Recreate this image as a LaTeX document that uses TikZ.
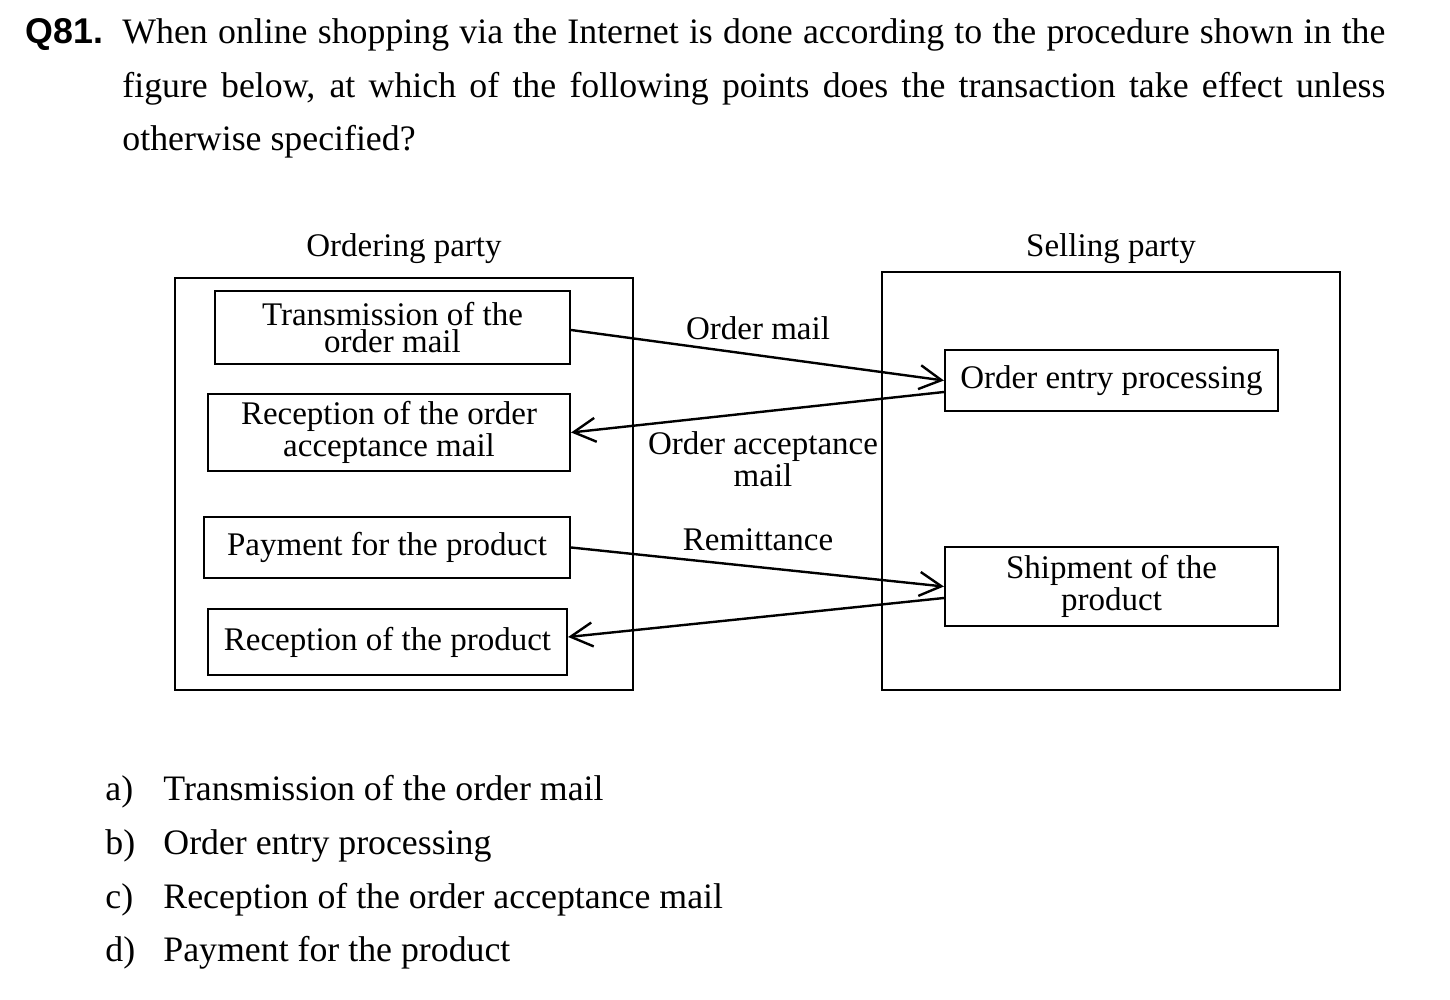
\documentclass[tikz,border=0pt]{standalone}
\usepackage{fontspec}
\setmainfont{Liberation Serif}
\newfontfamily\qsans{Liberation Sans}
\usetikzlibrary{arrows.meta,calc}
\tikzset{
  qtext/.style={anchor=base west, inner sep=0pt, font=\fontsize{17.9}{26.75}\selectfont},
  dlabel/.style={inner sep=0pt, font=\fontsize{16.5}{12.5}\selectfont, align=center},
  frame/.style={draw, line width=1.1pt, inner sep=0pt},
  pbox/.style={draw, line width=1.1pt, inner sep=0pt, align=center, font=\fontsize{16.5}{13.5}\selectfont},
  arr/.style={line width=1.2pt, -{Straight Barb[length=11pt,width=12pt,line width=1.2pt]}}
}
\begin{document}
\begin{tikzpicture}[x=0.5pt,y=-0.5pt]
\useasboundingbox (0,0) rectangle (1450,1000);
% question
\node[qtext] (qnum) at (25,44) {\qsans\bfseries Q81.};
\node[qtext] (ql1) at (122,44) {\makebox[631.5pt][s]{When online shopping via the Internet is done according to the procedure shown in the}};
\node[qtext] (ql2) at (122,97.5) {\makebox[631.5pt][s]{figure below, at which of the following points does the transaction take effect unless}};
\node[qtext] (ql3) at (122,151) {otherwise specified?};
% party labels
\node[dlabel] (olab) at (404,249) {Ordering party};
\node[dlabel] (slab) at (1111,249) {Selling party};
% frames
\node[frame, minimum width=229pt, minimum height=206pt] (left) at (404,484) {};
\node[frame, minimum width=229pt, minimum height=209pt] (right) at (1111,481) {};
% boxes
\node[pbox, minimum width=177.5pt, minimum height=36.5pt] (t1) at (392.5,327.5) {Transmission of the\\order mail};
\node[pbox, minimum width=181pt, minimum height=38.5pt] (r1) at (389,432.5) {Reception of the order\\acceptance mail};
\node[pbox, minimum width=183pt, minimum height=30.5pt] (pay) at (387,547.5) {Payment for the product};
\node[pbox, minimum width=179.5pt, minimum height=33pt] (rp) at (387.5,642) {Reception of the product};
\node[pbox, minimum width=166.5pt, minimum height=30.5pt] (oe) at (1111.5,380.5) {Order entry processing};
\node[pbox, minimum width=166.5pt, minimum height=39.5pt] (sp) at (1111.5,586.5) {Shipment of the\\product};
% arrows
\draw[arr] ($(t1.east)+(0,2.5)$) -- (oe.west);
\draw[arr] ($(oe.west)+(0,11.5)$) -- (r1.east);
\draw[arr] (pay.east) -- (sp.west);
\draw[arr] ($(sp.west)+(0,11.5)$) -- ($(rp.east)+(0,-5)$);
% arrow labels
\node[dlabel] (lom) at (758,328) {Order mail};
\node[dlabel] (loa) at (763,459) {Order acceptance\\mail};
\node[dlabel] (lrem) at (758,540) {Remittance};
% answers
\node[qtext] (aa) at (105,800) {a)};
\node[qtext] (ta) at (163,800) {Transmission of the order mail};
\node[qtext] (ab) at (105,854) {b)};
\node[qtext] (tb) at (163,854) {Order entry processing};
\node[qtext] (ac) at (105,908) {c)};
\node[qtext] (tc) at (163,908) {Reception of the order acceptance mail};
\node[qtext] (ad) at (105,961) {d)};
\node[qtext] (td) at (163,961) {Payment for the product};
\end{tikzpicture}
\end{document}
